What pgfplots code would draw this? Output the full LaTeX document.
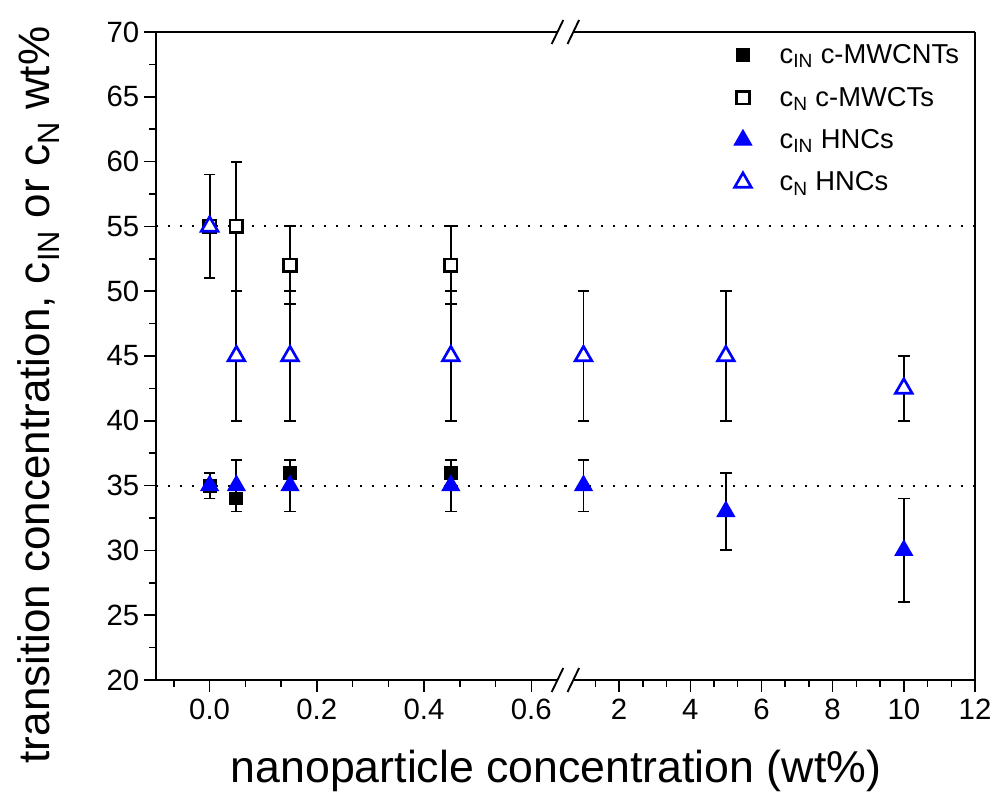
\documentclass[border=0pt]{standalone}
\usepackage{pgfplots}
\pgfplotsset{compat=1.18}
\usepackage{fontspec}
\setmainfont{Liberation Sans}
\definecolor{hblue}{RGB}{0,0,255}

\pgfplotsset{
  brk/.style={
    scale only axis, height=486pt, ymin=20, ymax=70,
    axis line style={-, line width=1.1pt, black},
    tick style={line width=1.1pt, black},
    major tick length=9pt, minor tick length=5pt,
    tick align=outside,
    xtick pos=left,
    ticklabel style={font=\fontsize{22}{26}\selectfont},
    /pgf/number format/assume math mode=true,
    xticklabel style={yshift=-2pt},
  },
  eb/.style={error bars/y dir=both, error bars/y explicit,
    error bars/error bar style={line width=1.4pt, black},
    error bars/error mark options={rotate=90, black, mark size=4.3pt, line width=1.4pt}},
  cincnt/.style={only marks, mark=square*, mark size=4.7pt, black,
    mark options={fill=black, draw=black, line width=1pt}},
  cncnt/.style={only marks, mark=square*, mark size=4.7pt, black,
    mark options={fill=white, draw=black, line width=2pt}},
  cinhnc/.style={only marks, mark=triangle*, mark size=7.6pt, hblue,
    mark options={fill=hblue, draw=hblue, line width=0.8pt}},
  cnhnc/.style={only marks, mark=triangle*, mark size=7.2pt, hblue,
    mark options={fill=white, draw=hblue, line width=2pt}},
  refl/.style={black, line width=1.5pt, dash pattern=on 1.3pt off 7.7pt, forget plot, no markers},
}

\begin{document}
\begin{tikzpicture}[x=0.75pt, y=0.75pt]
\useasboundingbox (0,0) rectangle (997,799);

% left segment
\begin{axis}[brk,
  at={(117pt,89.25pt)}, anchor=south west, width=306.75pt,
  xmin=-0.1, xmax=0.663,
  axis x line*=box, axis y line*=left,
  ytick pos=left,
  xtick={0,0.2,0.4,0.6}, xticklabels={0.0,0.2,0.4,0.6},
  minor xtick={-0.06667,0.06667,0.13333,0.26667,0.33333,0.46667,0.53333},
  ytick={20,25,...,70}, minor ytick={22.5,27.5,...,67.5},
]
\addplot[refl] coordinates {(-0.1,55) (0.663,55)};
\addplot[refl] coordinates {(-0.1,35) (0.663,35)};
\addplot[cincnt, eb] coordinates {
 (0,35) +- (0,1)
 (0.05,34) +- (0,1)
 (0.15,36) +- (0,1)
 (0.45,36) +- (0,1)};
\addplot[cncnt, eb] coordinates {
 (0,55) +- (0,4)
 (0.05,55) +- (0,5)
 (0.15,52) +- (0,3)
 (0.45,52) +- (0,3)};
\addplot[cinhnc, eb] coordinates {
 (0,35) +- (0,1)
 (0.05,35) +- (0,2)
 (0.15,35) +- (0,2)
 (0.45,35) +- (0,2)};
\addplot[cnhnc, eb] coordinates {
 (0,55) +- (0,4)
 (0.05,45) +- (0,5)
 (0.15,45) +- (0,5)
 (0.45,45) +- (0,5)};
\end{axis}

% right segment
\begin{axis}[brk,
  at={(423.75pt,89.25pt)}, anchor=south west, width=307.5pt,
  xmin=0.48, xmax=12,
  axis x line*=box, axis y line*=right,
  ytick=\empty,
  xtick={2,4,...,12},
  minor xtick={1.3333,2.6667,3.3333,4.6667,5.3333,6.6667,7.3333,8.6667,9.3333,10.6667,11.3333},
  legend style={at={(0.412,0.985)}, anchor=north west, draw=none, fill=none,
    font=\fontsize{20.5}{24}\selectfont, row sep=12pt, inner sep=0pt,
    /tikz/every odd column/.append style={column sep=19pt}},
  legend cell align=left,
]
\addplot[refl] coordinates {(0.48,55) (12,55)};
\addplot[refl] coordinates {(0.48,35) (12,35)};
\addlegendimage{cincnt}
\addlegendentry{c\textsubscript{IN} c-MWCNTs}
\addlegendimage{cncnt}
\addlegendentry{c\textsubscript{N} c-MWCTs}
\addlegendimage{cinhnc}
\addlegendentry{c\textsubscript{IN} HNCs}
\addlegendimage{cnhnc}
\addlegendentry{c\textsubscript{N} HNCs}
\addplot[forget plot, cinhnc, eb] coordinates {
 (1,35) +- (0,2)
 (5,33) +- (0,3)
 (10,30) +- (0,4)};
\addplot[forget plot, cnhnc, eb] coordinates {
 (1,45) +- (0,5)
 (5,45) +- (0,5)
 (10,42.5) +- (0,2.5)};
\end{axis}

% axis break marks
\fill[white] (557.5,762) rectangle (573.3,772);
\fill[white] (557.5,114) rectangle (573.3,124);
\foreach \yy in {767,119}{
  \draw[line width=1.4pt] (551.7,\yy-12) -- (563.3,\yy+12);
  \draw[line width=1.4pt] (567.5,\yy-12) -- (579.1,\yy+12);
}

% axis labels
\node[anchor=base, font=\fontsize{33.5}{38}\selectfont] at (556,16) {nanoparticle concentration (wt\%)};
\node[anchor=base, rotate=90, font=\fontsize{33}{38}\selectfont] at (50,404) {transition concentration, c\textsubscript{IN} or c\textsubscript{N} wt\%};
\end{tikzpicture}
\end{document}
